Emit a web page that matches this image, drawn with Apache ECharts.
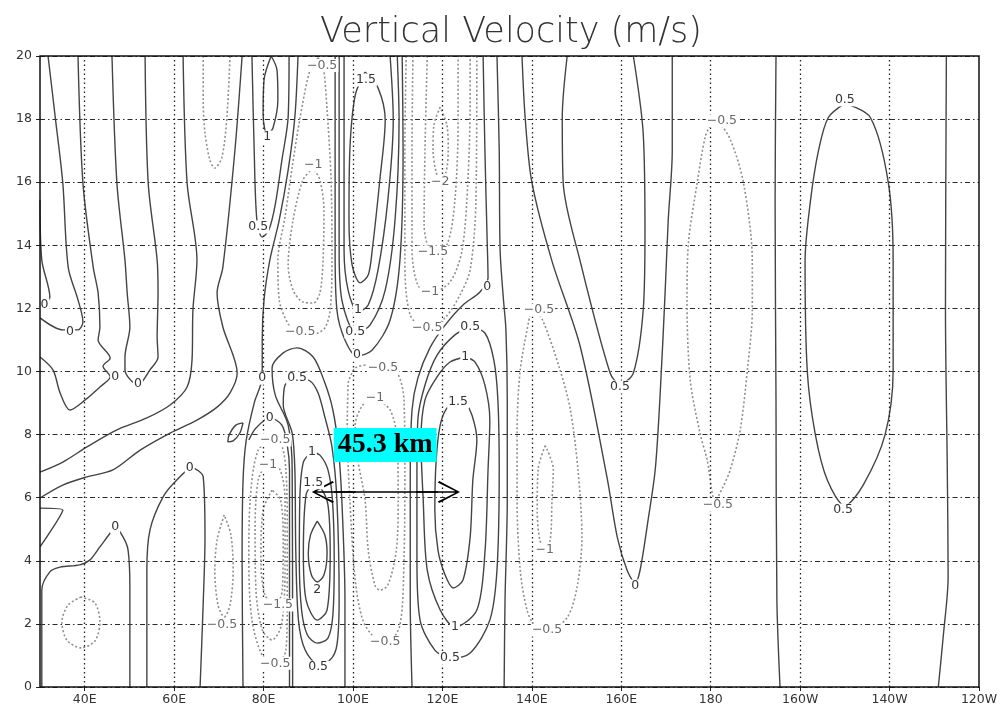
<!DOCTYPE html>
<html><head><meta charset="utf-8">
<script src="https://cdn.jsdelivr.net/npm/echarts/dist/echarts.min.js"></script>
<style>html,body{margin:0;padding:0;background:#fff}#c{width:1001px;height:708px}</style>
</head><body><div id="c"></div>
<script>
// ---- axes ----
const xTickValues = [40,60,80,100,120,140,160,180,200,220,240];
const xTickLabels = ['40E','60E','80E','100E','120E','140E','160E','180','160W','140W','120W'];
const xGridValues = [40,60,80,100,120,140,160,180,200,220];

// ---- contour lines [longitude(deg E), height] ----
// west part
const cW1  = [[31.8,20],[33.4,18.07],[35.1,15.97],[36.3,13.31],[38.5,12.27],[39.6,11.57],[38.5,11.32],[35.1,11.32],[30,11.7]];
const cW1b = [[30,15.44],[30.4,13.53],[32.2,12.36],[30.6,12.05]];
const cW2  = [[38.5,20],[39.6,15.97],[41.9,13.31],[43.0,12.49],[43.4,11.41],[43.0,11.0],[45.7,10.43],[44.1,10.17],[45.7,9.83],[43.4,9.51],[40.1,9.1],[36.7,8.78],[34.5,9.32],[32.9,10.05],[30,10.46]];
const cW3  = [[46.1,20],[47.2,15.97],[49.0,13.53],[49.5,12.49],[50.1,11.41],[49.0,10.46],[49.0,10.05],[51.9,9.57],[54.6,10.05],[56.4,10.46],[56.2,11.1],[56.4,12.49],[56.2,13.53],[54.2,15.97],[53.5,20]];
const cW4  = [[62.0,20],[62.9,15.97],[65.1,13.53],[64.2,11.95],[64.0,10.36],[62.9,9.51],[59.1,8.94],[53.9,8.53],[47.2,8.15],[40.5,7.61],[35.1,7.13],[30,6.81]];
const cW5  = [[66.5,20],[66.5,18.6],[66.9,17.56],[68.0,16.7],[69.1,16.45],[70.7,16.8],[71.8,18.07],[72.5,20]];
const cW6  = [[75.2,20],[73.6,17.02],[70.9,13.31],[69.6,12.49],[70.9,11.41],[74.1,9.95],[72.5,9.32],[69.6,8.87],[65.1,8.46],[59.1,8.05],[52.4,7.51],[46.3,6.88],[40.5,6.66],[35.1,6.40],[30,5.99]];
const cW7  = [[87.7,20],[87.0,18.07],[85.5,16.39],[83.5,14.8],[81.4,13.53],[80.1,12.27],[79.7,11.0],[79.7,9.83],[77.9,9.0],[76.1,7.8],[75.4,6.5],[75.2,4],[75.4,0]];
const cLL1 = [[30.4,0],[30.4,3.07],[32.2,3.65],[34.5,3.80],[38.9,3.87],[41.2,4.03],[43.4,4.44],[45.7,4.88],[46.8,5.07],[48.6,4.75],[49.7,4.34],[50.1,3.17],[50.1,0]];
const cLL2 = [[39.2,2.85],[36.3,2.60],[34.9,2.06],[36.0,1.49],[39.2,1.24],[42.3,1.46],[43.4,2.06],[42.3,2.66],[39.2,2.85]];
const cLL3 = [[53.9,0],[53.9,3.71],[54.6,4.98],[57.5,6.02],[60.6,6.56],[64.0,6.94],[66.5,6.66],[66.9,4.75],[66.5,2.66],[65.8,0]];
const cLL4 = [[30,5.67],[35.1,5.61],[30,4.44]];
const cSW  = [[71.2,5.45],[69.6,4.66],[69.1,3.71],[69.8,2.60],[71.2,2.22],[72.5,2.60],[73.2,3.71],[72.7,4.82],[71.2,5.45]];
const cTilt= [[75.4,8.37],[73.8,8.30],[72.3,7.99],[72.0,7.77],[73.2,7.80],[74.7,8.05],[75.4,8.37]];
// 80E-90E
const cC1  = [[81.7,20],[80.1,19.24],[79.9,18.13],[80.8,17.5],[82.1,17.72],[83.2,18.61],[83.0,19.56],[81.7,20]];
const cC2  = [[77.4,20],[77.9,17.02],[78.5,14.8],[79.7,14.26],[81.2,14.49],[82.6,15.28],[84.1,16.7],[85.5,18.07],[85.7,20]];
const cN1a = [[92.2,19.94],[90.4,19.56],[88.2,18.07],[86.4,16.48],[84.8,14.9],[83.2,13.53],[83.5,12.27],[85.9,11.41],[88.2,11.16],[91.5,11.19],[93.7,11.38],[94.9,11.95],[95.3,13.53],[95.1,16.07],[94.2,18.29],[93.3,19.71],[92.2,19.94]];
const cN1b = [[91.1,16.45],[88.8,16.07],[86.6,14.8],[85.5,13.38],[86.6,12.58],[88.8,12.2],[91.1,12.17],[92.6,12.49],[93.3,13.53],[93.5,15.12],[92.6,16.07],[91.1,16.45]];
const cN4_0  = [[76.7,7.83],[78.3,8.21],[81.4,8.53],[84.1,8.30],[85.3,7.67],[85.8,6.88],[85.8,0]];
const cN4_05 = [[82.6,7.92],[78.8,7.51],[77.0,5.93],[76.7,4.03],[77.4,2.12],[79.7,1.01],[82.6,0.70],[85.0,1.17],[85.3,2.76],[85.3,5.29],[85.0,6.88],[84.2,7.6],[82.6,7.92]];
const cN4_1  = [[81.0,7.19],[78.8,6.56],[78.1,4.98],[78.3,3.07],[79.7,1.81],[81.9,1.49],[84.0,1.97],[84.8,3.71],[84.8,5.93],[83.7,6.88],[81.0,7.19]];
const cN4_15 = [[81.9,6.24],[79.9,5.61],[79.4,4.03],[80.3,2.92],[82.6,2.60],[84.2,3.07],[84.4,4.66],[83.8,5.93],[81.9,6.24]];
const cP2_0  = [[98.2,0],[98.2,2.76],[97.5,5.93],[96.7,7.61],[95.5,8.78],[93.7,9.64],[91.1,10.46],[87.5,10.75],[84.4,10.59],[81.9,10.11],[82.6,9.26],[85.5,8.30],[86.4,6.88],[86.5,0]];
const cP2_05 = [[87.5,9.79],[84.8,9.57],[84.4,8.94],[86.4,8.05],[87.0,6.88],[87.2,4.34],[87.8,2.12],[89.3,1.17],[92.2,0.73],[94.9,0.86],[96.4,1.33],[96.9,2.76],[96.4,5.93],[95.3,7.61],[93.7,8.56],[92.2,9.32],[90.4,9.70],[87.5,9.79]];
const cP2_1  = [[90.8,7.45],[88.9,7.13],[88.1,5.93],[88.0,4.03],[88.5,2.44],[89.8,1.65],[92.0,1.39],[94.4,1.55],[95.5,2.28],[95.8,4.03],[95.4,5.93],[94.4,6.88],[92.6,7.35],[90.8,7.45]];
const cP2_15 = [[91.1,6.47],[89.5,6.09],[88.9,4.25],[89.5,2.76],[92.0,2.12],[94.2,2.44],[94.9,4.25],[94.4,5.77],[92.8,6.31],[91.1,6.47]];
const cP2_2  = [[92.0,5.26],[90.5,4.82],[90.0,4.25],[90.7,3.55],[92.0,3.33],[93.5,3.55],[94.2,4.25],[93.7,4.82],[92.0,5.26]];
// 100E
const cP1_15 = [[102.7,19.49],[100.5,18.76],[99.3,17.02],[99.1,14.8],[99.8,13.38],[101.6,12.81],[103.4,13.06],[104.3,13.85],[106.0,16.07],[107.2,17.97],[105.6,18.99],[102.7,19.49]];
const cP1_1  = [[98.0,20],[98.0,17.02],[98.0,13.85],[98.9,12.58],[101.1,11.89],[103.4,12.11],[105.6,13.22],[107.8,15.44],[109.0,17.97],[108.3,20]];
const cP1_05 = [[96.9,20],[96.9,17.02],[96.9,13.85],[97.5,12.27],[100.7,11.22],[103.8,11.47],[107.2,12.58],[109.4,14.8],[110.3,17.97],[109.9,20]];
const cP1_0  = [[96.0,20],[96.0,17.02],[96.0,13.85],[96.4,11.95],[98.2,11.0],[100.9,10.49],[104.3,10.68],[108.3,11.63],[110.5,13.53],[111.2,17.02],[111.0,20]];
const cN3_05 = [[98.9,9.64],[100.5,10.11],[103.8,10.21],[106.7,10.11],[109.9,9.95],[111.4,9.10],[111.6,6.88],[111.4,4.03],[110.5,1.97],[107.8,1.43],[104.9,1.55],[102.2,2.12],[100.5,3.39],[99.3,5.93],[98.7,8.15],[98.9,9.64]];
const cN3_1  = [[104.9,9.16],[102.2,8.94],[100.5,8.30],[101.1,7.19],[102.7,5.93],[103.4,4.34],[104.9,3.23],[106.0,3.07],[107.8,3.23],[109.7,4.34],[110.1,5.93],[109.9,7.83],[108.3,8.78],[104.9,9.16]];
// 120E
const cN2_2  = [[119.5,18.38],[118.1,17.81],[117.9,17.02],[118.6,16.32],[119.5,16.07],[120.8,16.32],[121.3,17.02],[121.0,17.81],[119.5,18.38]];
const cN2_15 = [[116.6,20],[116.1,17.02],[115.9,14.64],[117.7,13.79],[121.0,14.02],[122.8,15.44],[123.5,17.97],[123.5,20]];
const cN2_1  = [[113.4,20],[113.2,17.02],[113.2,13.85],[114.5,12.74],[117.2,12.49],[121.7,12.84],[124.4,13.85],[125.7,16.07],[126.2,18.61],[126.2,20]];
const cN2_05 = [[111.9,20],[111.6,17.02],[111.6,13.53],[112.8,11.79],[116.6,11.32],[120.6,11.70],[123.9,12.42],[126.2,13.22],[127.5,15.44],[127.7,20]];
const cL1    = [[129.1,20],[129.5,17.02],[130.0,14.17],[130.2,12.96],[128.4,12.52],[124.6,12.11],[120.6,11.47],[117.2,10.75],[114.5,9.79],[113.2,8.78],[112.8,6.56],[112.8,2.76],[113.2,0]];
const cL2    = [[132.2,20],[132.7,17.02],[132.9,13.85],[133.6,12.36],[134.2,11.32],[134.5,9.10],[134.5,5.93],[134.0,2.76],[133.8,0]];
const cP3_05 = [[126.2,11.41],[122.8,11.16],[118.8,10.52],[116.1,9.57],[114.5,8.46],[114.3,6.56],[114.3,4.03],[115.0,2.12],[118.3,1.17],[121.7,0.92],[126.2,1.08],[130.6,2.12],[132.2,3.71],[132.7,6.88],[132.4,9.10],[131.5,10.36],[129.5,11.22],[126.2,11.41]];
const cP3_1  = [[125.1,10.46],[121.7,10.30],[118.8,9.83],[116.1,9.10],[115.2,7.83],[115.7,5.93],[116.6,3.71],[119.5,2.44],[122.8,1.90],[127.7,2.44],[129.5,4.25],[130.2,6.88],[130.6,8.46],[129.5,9.57],[127.3,10.30],[125.1,10.46]];
const cP3_15 = [[123.5,9.10],[121.0,8.84],[119.5,8.30],[118.6,7.19],[118.3,5.61],[119.0,4.34],[120.6,3.55],[122.4,3.14],[124.6,3.39],[126.2,4.75],[126.8,6.56],[127.7,7.83],[126.6,8.62],[125.1,9.00],[123.5,9.10]];
// 140E-160E
const cF_05  = [[139.6,11.8],[137.4,10.05],[136.7,8.05],[136.7,5.9],[137.4,3.7],[138.9,2.45],[140.7,1.95],[144.1,1.85],[147.9,2.2],[150.1,3.15],[151.2,4.75],[150.3,6.9],[148.6,8.8],[146.3,10.05],[142.5,11.6],[141,11.85],[139.6,11.8]];
const cF_1   = [[143,7.65],[141.4,6.9],[141.2,5.6],[141.8,4.65],[143,4.4],[144.1,4.65],[144.5,5.9],[144.8,6.9],[143,7.65]];
const cG_0   = [[137.8,20],[138.5,18.05],[140,16],[144.5,13.5],[150.8,10.8],[156.8,6.65],[159.1,4.75],[161.3,3.7],[163.1,3.3],[164.2,3.7],[166,5.3],[167.6,6.9],[168.7,9.3],[169.8,12.5],[170.5,14.8],[171.4,17],[171.4,20]];
const cG_05  = [[147.9,20],[146.8,18.05],[147,16],[150.8,13.5],[157.5,9.95],[159.7,9.6],[162.7,9.95],[164.9,11.95],[165.3,14.4],[164.9,17.55],[162.7,20]];
// 180 - 120W
const cH_m05 = [[180.3,17.9],[178.8,17.45],[177,16],[175,14.05],[174.7,12.25],[175.4,9.75],[177.6,8.05],[179.2,7.2],[181,5.9],[182.6,6.3],[184.4,6.9],[186.6,8.15],[188.2,10.05],[189.3,11.95],[189.3,13.5],[187.3,16],[184.4,17.35],[182,17.85],[180.3,17.9]];
const cH_0a  = [[194.6,20],[194.4,15.4],[194.6,9.1],[194.8,2.75],[195.5,0]];
const cH_05  = [[210,18.5],[206.3,18.05],[204.1,17.0],[202.3,15.4],[201.1,13.5],[201.6,10.0],[203.4,8.0],[206.1,6.55],[210,5.75],[214.1,6.4],[219,8.0],[220.8,10.05],[220.8,13.5],[219.7,16],[215.7,18.05],[210,18.5]];
const cH_0b  = [[232.7,20],[232.5,12],[232.9,7],[233.1,3.5],[232.0,1.6],[230.9,0]];

const contours = [
  {level:0,pts:cW1},{level:0,pts:cW1b},{level:0,pts:cW2},{level:0,pts:cW3},{level:0,pts:cW4},
  {level:-0.5,pts:cW5},{level:0,pts:cW6},{level:0,pts:cW7},
  {level:0,pts:cLL1},{level:-0.5,pts:cLL2},{level:0,pts:cLL3},{level:0,pts:cLL4},
  {level:-0.5,pts:cSW},{level:0,pts:cTilt},
  {level:1,pts:cC1},{level:0.5,pts:cC2},{level:-0.5,pts:cN1a},{level:-1,pts:cN1b},
  {level:0,pts:cN4_0},{level:-0.5,pts:cN4_05},{level:-1,pts:cN4_1},{level:-1.5,pts:cN4_15},
  {level:0,pts:cP2_0},{level:0.5,pts:cP2_05},{level:1,pts:cP2_1},{level:1.5,pts:cP2_15},{level:2,pts:cP2_2},
  {level:1.5,pts:cP1_15},{level:1,pts:cP1_1},{level:0.5,pts:cP1_05},{level:0,pts:cP1_0},
  {level:-0.5,pts:cN3_05},{level:-1,pts:cN3_1},
  {level:-2,pts:cN2_2},{level:-1.5,pts:cN2_15},{level:-1,pts:cN2_1},{level:-0.5,pts:cN2_05},
  {level:0,pts:cL1},{level:0,pts:cL2},
  {level:0.5,pts:cP3_05},{level:1,pts:cP3_1},{level:1.5,pts:cP3_15},
  {level:-0.5,pts:cF_05},{level:-1,pts:cF_1},{level:0,pts:cG_0},{level:0.5,pts:cG_05},
  {level:-0.5,pts:cH_m05},{level:0,pts:cH_0a},{level:0.5,pts:cH_05},{level:0,pts:cH_0b}
];

// ---- contour labels [lon, height, text] ----
const posLabels = [
  [210.0,18.61,'0.5'],[209.6,5.61,'0.5'],[159.7,9.51,'0.5'],[163.1,3.2,'0'],
  [130.0,12.68,'0'],[126.2,11.41,'0.5'],[125.1,10.46,'1'],[123.5,9.03,'1.5'],[122.8,1.90,'1'],[121.7,0.92,'0.5'],
  [102.9,19.24,'1.5'],[101.1,11.95,'1'],[100.5,11.25,'0.5'],[100.9,10.52,'0'],
  [80.8,17.43,'1'],[78.8,14.58,'0.5'],[79.7,9.79,'0'],[87.5,9.79,'0.5'],[81.4,8.53,'0'],
  [90.8,7.45,'1'],[91.1,6.47,'1.5'],[92.0,3.07,'2'],[92.2,0.63,'0.5'],
  [63.5,6.94,'0'],[46.8,5.07,'0'],[31.0,12.11,'0'],[36.7,11.25,'0'],[46.8,9.83,'0'],[51.9,9.6,'0']
];
const negLabels = [
  [182.5,17.95,'\u22120.5'],[181.6,5.77,'\u22120.5'],[141.6,11.95,'\u22120.5'],[143.4,1.81,'\u22120.5'],[142.9,4.34,'\u22121'],
  [116.6,11.38,'\u22120.5'],[117.2,12.52,'\u22121'],[117.9,13.79,'\u22121.5'],[119.5,16.01,'\u22122'],
  [106.7,10.11,'\u22120.5'],[104.9,9.16,'\u22121'],[107.2,1.43,'\u22120.5'],
  [91.1,16.55,'\u22121'],[88.2,11.25,'\u22120.5'],[93.1,19.7,'\u22120.5'],
  [82.6,7.83,'\u22120.5'],[81.0,7.04,'\u22121'],[83.2,2.60,'\u22121.5'],[82.6,0.75,'\u22120.5'],[70.7,1.97,'\u22120.5']
];

// ---- annotation ----
const arrowFrom = [95.7,6.18];
const arrowTo = [119.0,6.18];
const boxPos = [107.2,7.67];
const boxText = '45.3 km';

const solidStyle = {color:'#444', width:1.4, type:'solid'};
const dashStyle = {color:'#8f8f8f', width:1.6, type:[2,2.2]};
const chevron = 'path://M5,0 L10.3,9.5 L9.6,10.2 L5,1.4 L0.4,10.2 L-0.3,9.5 Z M4.6,0.6 L5.4,0.6 L5.4,20.2 L4.6,20.2 Z';
const clear = 'rgba(0,0,0,0)';

const series = [];
series.push({
  type:'line', data:[[30,0]], symbol:'none', lineStyle:{width:0}, silent:true, z:1,
  markLine:{silent:true, animation:false, symbol:'none', label:{show:false},
    lineStyle:{color:'#222', width:1.3, type:[1.5,3]},
    data:xGridValues.map(v=>({xAxis:v}))}
});
contours.forEach(c=>{
  series.push({type:'line', data:c.pts, smooth:0.3, symbol:'none', showSymbol:false, silent:true, z:3,
    lineStyle: c.level<0 ? dashStyle : solidStyle});
});
function labelSeries(data,color){
  return {type:'scatter', data:data, symbolSize:2, itemStyle:{color:clear, opacity:1}, silent:true, z:6,
    label:{show:true, position:'inside', formatter:p=>p.value[2], fontSize:12.5, fontFamily:'DejaVu Sans',
      color:color, backgroundColor:'#fff', padding:[0,1], lineHeight:13}};
}
series.push(labelSeries(posLabels,'#333'));
series.push(labelSeries(negLabels,'#6a6a6a'));
series.push({type:'line', data:[[30,0]], symbol:'none', lineStyle:{width:0}, silent:true, z:8,
  markLine:{silent:true, animation:false, symbol:[chevron,chevron], symbolSize:[22,44], label:{show:false},
    lineStyle:{color:'#000', width:1.5, type:'solid'},
    data:[[{coord:arrowFrom},{coord:arrowTo}]]}});
series.push({type:'scatter', data:[boxPos], symbolSize:2, itemStyle:{color:clear, opacity:1}, silent:true, z:9,
  label:{show:true, position:'inside', formatter:boxText, fontFamily:'Liberation Serif', fontWeight:'bold',
    fontSize:28, color:'#000', backgroundColor:'#00ffff', padding:[3,4,3,4], lineHeight:28}});

const labelMap = {};
xTickValues.forEach((v,i)=>labelMap[v]=xTickLabels[i]);

const chart = echarts.init(document.getElementById('c'));
chart.setOption({
  animation:false,
  backgroundColor:'#fff',
  title:{text:'Vertical Velocity (m/s)', left:320, top:15, padding:0,
    textStyle:{fontFamily:'DejaVu Sans', fontWeight:200, fontSize:35, color:'#333'}},
  grid:{left:40, right:22, top:56, bottom:21, show:true, borderColor:'#111', borderWidth:1.5, z:7},
  xAxis:{type:'value', min:30, max:240, interval:10,
    axisLine:{show:false},
    axisTick:{show:true, customValues:xTickValues, length:4, lineStyle:{color:'#222'}},
    axisLabel:{customValues:xTickValues, formatter:v=>labelMap[v]||'', fontSize:12.5, color:'#333', margin:6, fontFamily:'DejaVu Sans'},
    splitLine:{show:false}},
  yAxis:{type:'value', min:0, max:20, interval:2,
    axisLine:{show:false},
    axisTick:{show:true, length:4, lineStyle:{color:'#222'}},
    axisLabel:{fontSize:12.5, color:'#333', margin:8, fontFamily:'DejaVu Sans'},
    splitLine:{show:true, lineStyle:{color:'#2a2a2a', width:1.2, type:[5,3,1.5,3]}}},
  series:series
});
</script></body></html>
